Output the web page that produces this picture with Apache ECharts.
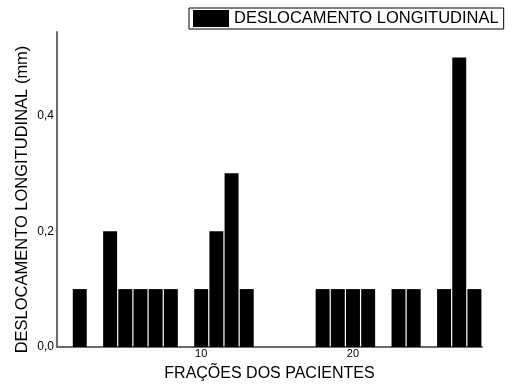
<!DOCTYPE html>
<html>
<head>
<meta charset="utf-8">
<script src="https://cdn.jsdelivr.net/npm/echarts@6/dist/echarts.min.js"></script>
<style>
  html, body { margin: 0; padding: 0; background: #fff; }
  #chart { width: 512px; height: 387px; }
</style>
</head>
<body>
<div id="chart"></div>
<script>
// Patient fractions 1..28 and the longitudinal displacement (mm) per fraction
const fractions = Array.from({ length: 28 }, (_, i) => String(i + 1));
const displacement = [
  0, 0.1, 0, 0.2, 0.1, 0.1, 0.1, 0.1, 0, 0.1,
  0.2, 0.3, 0.1, 0, 0, 0, 0, 0.1, 0.1, 0.1,
  0.1, 0, 0.1, 0.1, 0, 0.1, 0.5, 0.1
];
const xTickLabels = ['10', '20'];
const yTickValues = [0, 0.2, 0.4];

const font = '"Liberation Sans", Arial, sans-serif';
const chart = echarts.init(document.getElementById('chart'), null, { renderer: 'canvas' });

chart.setOption({
  animation: false,
  backgroundColor: '#fff',
  grid: { left: 57, right: 30, top: 32, bottom: 38 },
  legend: {
    left: 189,
    top: 8,
    padding: [2, 5, 2, 4],
    itemGap: 0,
    itemWidth: 36,
    itemHeight: 17,
    borderColor: '#000',
    borderWidth: 1,
    borderRadius: 0,
    icon: 'rect',
    textStyle: { fontFamily: font, fontSize: 16.5, lineHeight: 17, color: '#000' },
    data: ['DESLOCAMENTO LONGITUDINAL']
  },
  xAxis: {
    type: 'category',
    data: fractions,
    name: 'FRAÇÕES DOS PACIENTES',
    nameLocation: 'middle',
    nameGap: 19,
    nameTextStyle: { fontFamily: font, fontSize: 16, color: '#000' },
    axisLine: { lineStyle: { color: '#6b6b6b', width: 2 } },
    axisTick: { show: false },
    axisLabel: {
      interval: 0,
      margin: 1,
      fontFamily: font,
      fontSize: 11,
      color: '#000',
      formatter: v => (xTickLabels.includes(v) ? v : '')
    },
    splitLine: { show: false }
  },
  yAxis: {
    type: 'value',
    min: 0,
    max: 0.544,
    interval: 0.2,
    name: 'DESLOCAMENTO LONGITUDINAL (mm)',
    nameLocation: 'middle',
    nameGap: 26,
    nameMoveOverlap: false,
    nameTextStyle: { fontFamily: font, fontSize: 16.5, color: '#000', padding: [0, 20, 0, 0] },
    axisLine: { show: true, lineStyle: { color: '#6b6b6b', width: 2 } },
    axisTick: { show: false },
    splitLine: { show: false },
    axisLabel: {
      margin: 3,
      fontFamily: font,
      fontSize: 12,
      color: '#000',
      showMaxLabel: false,
      formatter: v => {
        const hit = yTickValues.find(t => Math.abs(t - v) < 1e-6);
        return hit === undefined ? '' : hit.toFixed(1).replace('.', ',');
      }
    }
  },
  series: [{
    name: 'DESLOCAMENTO LONGITUDINAL',
    type: 'bar',
    data: displacement,
    barCategoryGap: '8%',
    itemStyle: { color: '#000' }
  }]
});
</script>
</body>
</html>
